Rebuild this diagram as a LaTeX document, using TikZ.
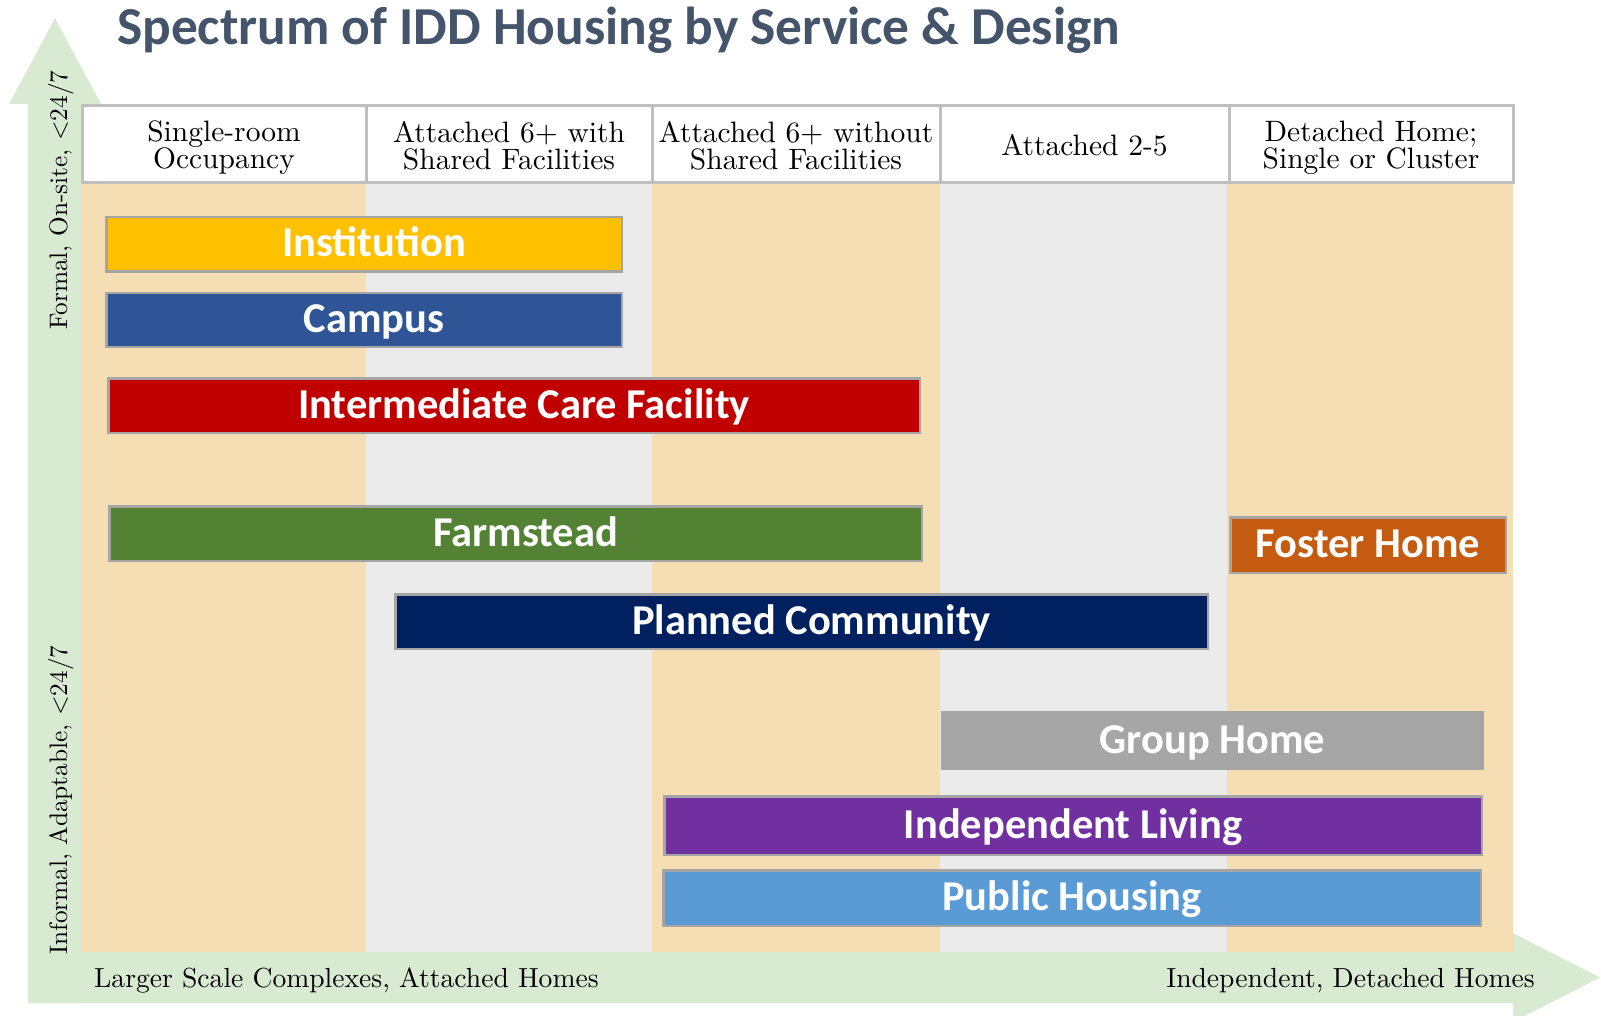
\documentclass[tikz,border=0pt]{standalone}
\usepackage{fontspec}
\newfontfamily\calib{Carlito}
\newfontfamily\lmten{lmroman10-regular}[Extension=.otf]
\usepackage{tikz}
\definecolor{titleblue}{HTML}{44546A}
\definecolor{axisgreen}{HTML}{D9EAD3}
\definecolor{wheatband}{HTML}{F5DEB3}
\definecolor{greyband}{HTML}{EBEBEB}
\definecolor{hdrline}{HTML}{BFBFBF}
\definecolor{barline}{HTML}{A5A5A5}
\definecolor{instcol}{HTML}{FFC000}
\definecolor{campcol}{HTML}{2F5597}
\definecolor{icfcol}{HTML}{C00000}
\definecolor{farmcol}{HTML}{548235}
\definecolor{fostercol}{HTML}{C55A11}
\definecolor{plancol}{HTML}{002060}
\definecolor{groupcol}{HTML}{A6A6A6}
\definecolor{indepcol}{HTML}{7030A0}
\definecolor{pubcol}{HTML}{5B9BD5}
\newcommand{\padtext}[1]{\hspace*{20pt}#1}
\tikzset{
	bar/.style={draw=barline, line width=2.5pt, text=white, text height=30pt, text depth=5pt,
		font=\calib\bfseries\fontsize{42.5}{46}\selectfont},
	hdr/.style={align=center, font=\lmten\fontsize{29.5}{27}\selectfont},
	axislbl/.style={font=\lmten\fontsize{25.3}{28}\selectfont},
	footlbl/.style={font=\lmten\fontsize{27.6}{30}\selectfont}
}

\begin{document}
\begin{tikzpicture}[x=1pt,y=1pt]
			\tikzstyle{every node}+=[inner sep=0pt]
			\useasboundingbox (0,0) rectangle (1601,-1016);
			\fill [axisgreen] (28,-1003) -- (28,-104) -- (9,-104) -- (55,-18) -- (101,-104) -- (82,-104) -- (82,-1003) -- cycle;
			\fill [axisgreen] (28,-952) -- (1513,-952) -- (1513,-933) -- (1600,-977.5) -- (1513,-1022) -- (1513,-1003) -- (28,-1003) -- cycle;
			\fill [wheatband] (82,-183) rectangle (366,-952);
			\fill [greyband] (366,-183) rectangle (652,-952);
			\fill [wheatband] (652,-183) rectangle (940,-952);
			\fill [greyband] (940,-183) rectangle (1227,-952);
			\fill [wheatband] (1227,-183) rectangle (1513,-952);
			\draw [hdrline, line width=3pt, fill=white] (82.5,-105.5) rectangle (1513.5,-183);
			\draw [hdrline, line width=3pt] (366,-105.5) -- (366,-183);
			\draw [hdrline, line width=3pt] (652,-105.5) -- (652,-183);
			\draw [hdrline, line width=3pt] (940,-105.5) -- (940,-183);
			\draw [hdrline, line width=3pt] (1229,-105.5) -- (1229,-183);
			\node [hdr, anchor=north] (sro) at (224,-121) {Single-room\\Occupancy};
			\node [hdr, anchor=north] (attshared) at (509,-121) {Attached 6+ with\\Shared Facilities};
			\node [hdr, anchor=north] (attnoshared) at (796,-121) {Attached 6+ without\\Shared Facilities};
			\node [hdr, anchor=base] (att25) at (1084.5,-155.5) {Attached 2-5};
			\node [hdr, anchor=north] (detached) at (1371,-121) {Detached Home;\\Single or Cluster};
			\node [anchor=base west, text=titleblue, font=\calib\bfseries\fontsize{53.4}{57}\selectfont] (title) at (117,-45) {Spectrum of IDD Housing by Service \& Design};
			\node [axislbl, rotate=90, anchor=base west] (formal) at (67,-330) {Formal, On-site, <24/7};
			\node [axislbl, rotate=90, anchor=base west] (informal) at (67,-955) {Informal, Adaptable, <24/7};
			\node [footlbl, anchor=base west] (larger) at (94,-987) {Larger Scale Complexes, Attached Homes};
			\node [footlbl, anchor=base east] (indep) at (1535,-987) {Independent, Detached Homes};
			\node [bar, fill=instcol, minimum width=515.5pt, minimum height=54.5pt] (inst) at (364,-244.5) {\padtext{Institution}};
			\node [bar, fill=campcol, minimum width=515.5pt, minimum height=53.5pt] (campus) at (364,-320) {\padtext{Campus}};
			\node [bar, fill=icfcol, minimum width=811.5pt, minimum height=54.5pt] (icf) at (514,-405.5) {\padtext{Intermediate Care Facility}};
			\node [bar, fill=farmcol, minimum width=812.5pt, minimum height=54.5pt] (farm) at (515.5,-533.5) {\padtext{Farmstead}};
			\node [bar, fill=fostercol, minimum width=275.5pt, minimum height=55.5pt] (foster) at (1368,-545) {Foster Home};
			\node [bar, fill=plancol, minimum width=812.5pt, minimum height=54.5pt] (planned) at (801.5,-621.5) {\padtext{Planned Community}};
			\node [bar, draw=groupcol, fill=groupcol, minimum width=540.5pt, minimum height=56.5pt] (group) at (1212.5,-740.5) {Group Home};
			\node [bar, fill=indepcol, minimum width=817.5pt, minimum height=58.5pt] (indliving) at (1073,-825.5) {Independent Living};
			\node [bar, fill=pubcol, minimum width=817.5pt, minimum height=55.5pt] (public) at (1072,-898) {Public Housing};
		\end{tikzpicture}
\end{document}
